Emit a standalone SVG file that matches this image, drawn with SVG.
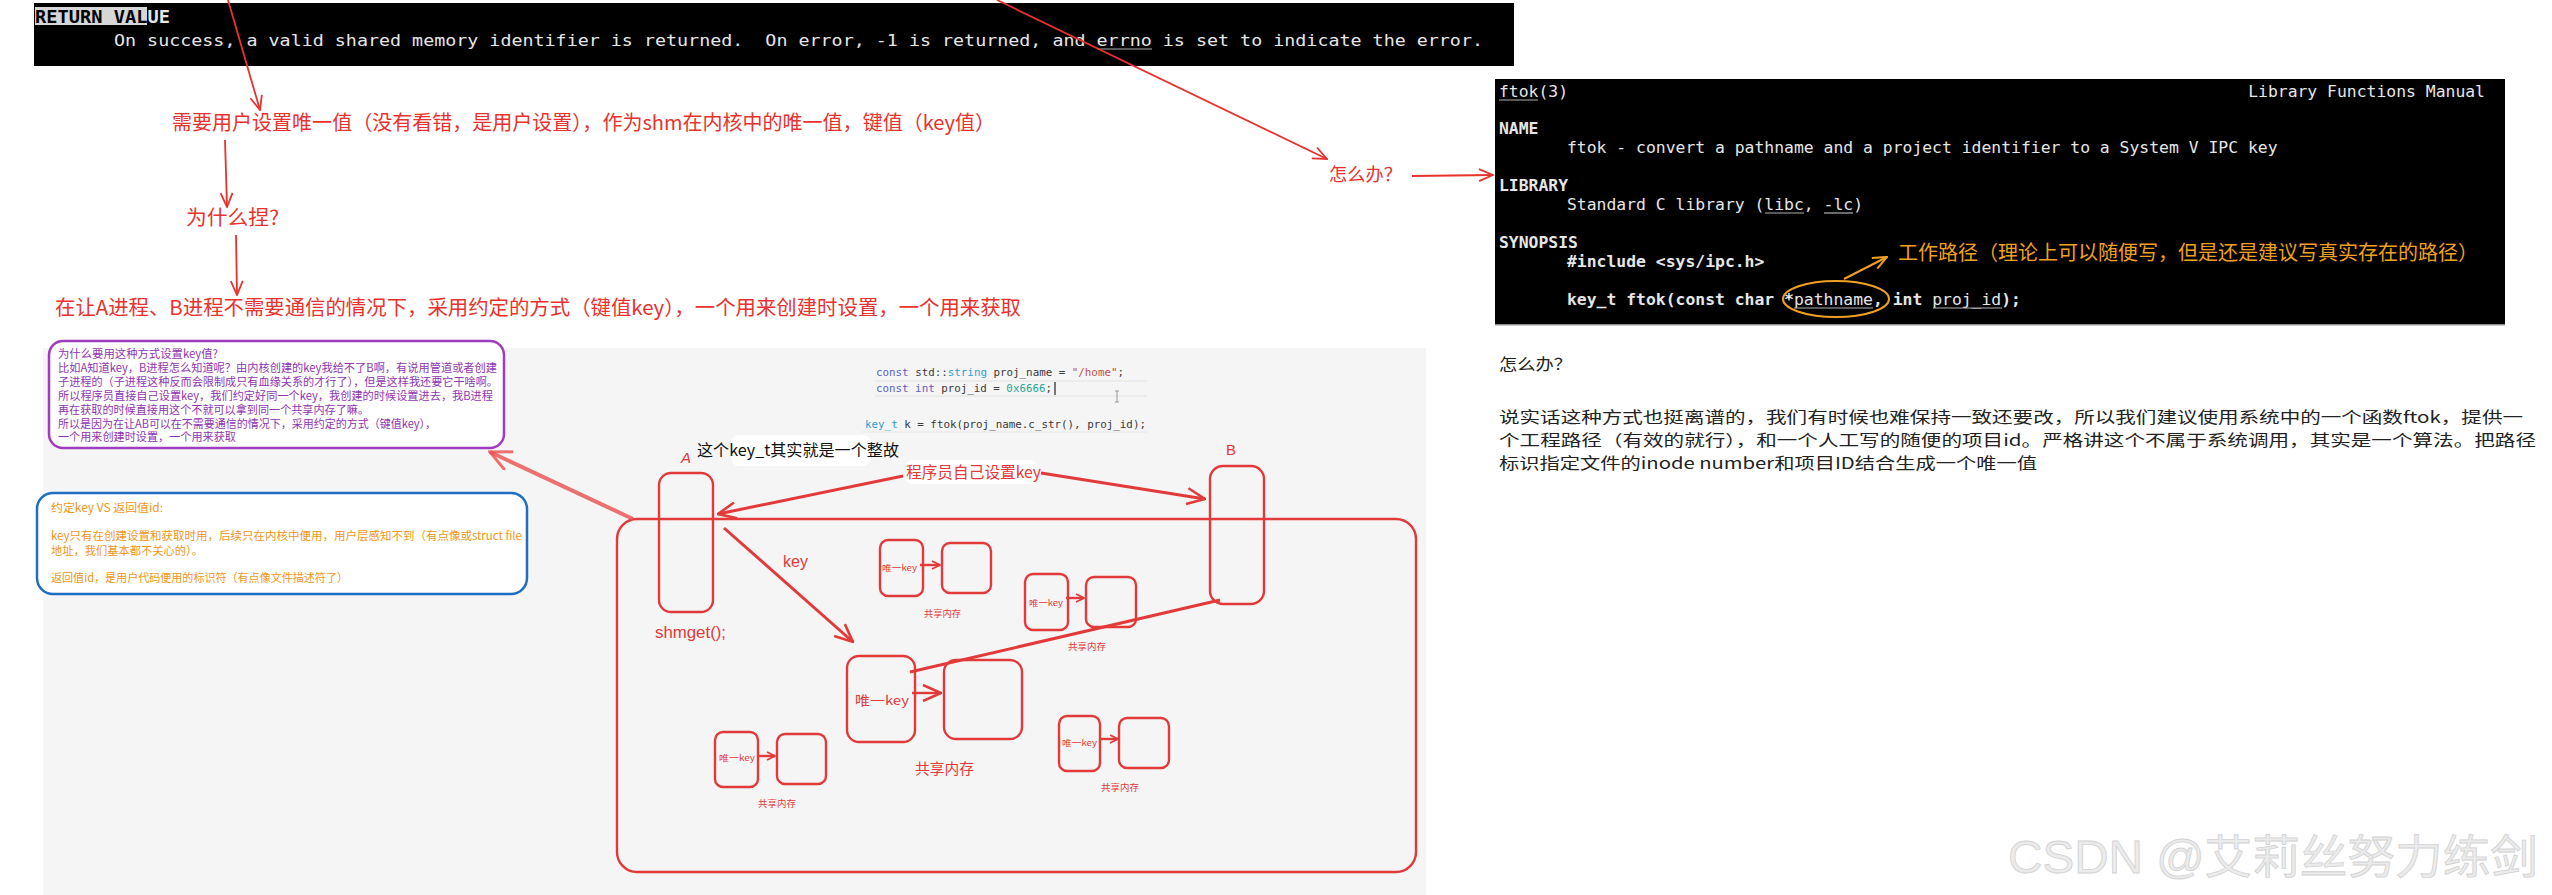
<svg xmlns="http://www.w3.org/2000/svg" width="2552" height="895" viewBox="0 0 2552 895">
<style>
.mono{font-family:"DejaVu Sans Mono","Liberation Mono",monospace}
.cjk{font-family:"Noto Sans CJK SC","Noto Sans",sans-serif}
.ann{fill:#e8322e;font-size:20px}
.man{fill:#e6e6e6;font-size:16.4px;white-space:pre}
.b{font-weight:bold}
.ul{stroke:#b0b0b0;stroke-width:1.2}
.rl{fill:none;stroke:#e8322e;stroke-width:1.8}
.hd{fill:none;stroke:#e23a3a;stroke-width:2.4}
.dar{fill:none;stroke:#e23a3a;stroke-width:3}
.pt{fill:#8f35b3;font-size:11.3px}
.ot{fill:#f0961a;font-size:11.5px}
.rt{fill:#e23a3a}
.sk{font-size:8.5px;fill:#e23a3a}
.sm{font-size:9px;fill:#e23a3a}
.code{font-size:11px;fill:#3a3a3a}
.kw{fill:#5a5fbf}
.ty{fill:#2f9fd0}
.st{fill:#c0504d}
.nu{fill:#29a39a}
.bt{fill:#222;font-size:15.5px}
</style>
<defs>
<marker id="mr" viewBox="0 0 16 14" refX="15" refY="7" markerWidth="16" markerHeight="14" markerUnits="userSpaceOnUse" orient="auto">
<path d="M1,1 L15,7 L1,13" fill="none" stroke="#e8322e" stroke-width="1.8"/>
</marker>
<marker id="md" viewBox="0 0 20 18" refX="19" refY="9" markerWidth="20" markerHeight="18" markerUnits="userSpaceOnUse" orient="auto">
<path d="M1,1 L19,9 L1,17" fill="none" stroke="#e23a3a" stroke-width="2.6"/>
</marker>
<marker id="mp" viewBox="0 0 24 22" refX="22" refY="11" markerWidth="24" markerHeight="22" markerUnits="userSpaceOnUse" orient="auto">
<path d="M1,1 L22,11 L1,21" fill="none" stroke="#e85050" stroke-width="3" stroke-opacity="0.8"/>
</marker>
<marker id="ms" viewBox="0 0 10 10" refX="9" refY="5" markerWidth="10" markerHeight="10" markerUnits="userSpaceOnUse" orient="auto">
<path d="M1,1 L9,5 L1,9" fill="none" stroke="#e23a3a" stroke-width="1.8"/>
</marker>
<marker id="mo" viewBox="0 0 16 14" refX="15" refY="7" markerWidth="16" markerHeight="14" markerUnits="userSpaceOnUse" orient="auto">
<path d="M1,1 L15,7 L1,13" fill="none" stroke="#f0a020" stroke-width="2"/>
</marker>
</defs>
<rect width="2552" height="895" fill="#ffffff"/>

<!-- top man page excerpt -->
<g id="retval">
<rect x="34" y="3" width="1480" height="63" fill="#000"/>
<rect x="35" y="7" width="112" height="18" fill="#d6d6d6"/>
<text x="35" y="23" class="mono b" font-size="17" textLength="135" lengthAdjust="spacingAndGlyphs"><tspan fill="#000">RETURN VAL</tspan><tspan fill="#e6e6e6">UE</tspan></text>
<text x="114" y="46" class="mono man" font-size="18" textLength="1369" lengthAdjust="spacingAndGlyphs" xml:space="preserve">On success, a valid shared memory identifier is returned.  On error, -1 is returned, and errno is set to indicate the error.</text>
<line x1="1097" y1="49" x2="1152" y2="49" class="ul"/>
</g>

<!-- red annotations -->
<g id="ann1"><text x="172" y="130" class="cjk ann" textLength="823" lengthAdjust="spacingAndGlyphs">需要用户设置唯一值（没有看错，是用户设置），作为shm在内核中的唯一值，键值（key值）</text></g>
<g id="ann2"><text x="186" y="225" class="cjk ann" textLength="93" lengthAdjust="spacingAndGlyphs">为什么捏?</text></g>
<g id="ann3"><text x="55" y="315" class="cjk ann" textLength="966" lengthAdjust="spacingAndGlyphs">在让A进程、B进程不需要通信的情况下，采用约定的方式（键值key），一个用来创建时设置，一个用来获取</text></g>
<g id="ann4"><text x="1329" y="181" class="cjk" fill="#e8322e" font-size="18" textLength="73" lengthAdjust="spacingAndGlyphs">怎么办？</text></g>

<!-- ftok man page -->
<g id="ftok">
<rect x="1495" y="79" width="1010" height="246" fill="#000"/>
<line x1="1495" y1="325" x2="2505" y2="325" stroke="#bbb" stroke-width="1.5"/>
<text x="1499" y="97" class="mono man">ftok(3)</text>
<line x1="1499" y1="100" x2="1538" y2="100" class="ul"/>
<text x="2485" y="97" class="mono man" text-anchor="end">Library Functions Manual</text>
<text x="1499" y="134" class="mono man b">NAME</text>
<text x="1567" y="153" class="mono man">ftok - convert a pathname and a project identifier to a System V IPC key</text>
<text x="1499" y="191" class="mono man b">LIBRARY</text>
<text x="1567" y="210" class="mono man">Standard C library (libc, -lc)</text>
<line x1="1765" y1="213" x2="1804" y2="213" class="ul"/>
<line x1="1824" y1="213" x2="1853" y2="213" class="ul"/>
<text x="1499" y="248" class="mono man b">SYNOPSIS</text>
<text x="1567" y="267" class="mono man b">#include &lt;sys/ipc.h&gt;</text>
<text x="1567" y="305" class="mono man"><tspan class="b">key_t ftok(const char *</tspan>pathname<tspan class="b">, int </tspan>proj_id<tspan class="b">);</tspan></text>
<line x1="1794" y1="308" x2="1873" y2="308" class="ul"/>
<line x1="1933" y1="308" x2="2002" y2="308" class="ul"/>
<ellipse cx="1836" cy="299" rx="53" ry="18" fill="none" stroke="#f0a020" stroke-width="2"/>
</g>
<g id="pathnote">
<text x="1898" y="260" class="cjk" fill="#f0a020" font-size="20" textLength="580" lengthAdjust="spacingAndGlyphs">工作路径（理论上可以随便写，但是还是建议写真实存在的路径）</text>
</g>

<!-- right explanation -->
<g id="explain">
<text x="1499" y="370" class="cjk bt" textLength="73" lengthAdjust="spacingAndGlyphs">怎么办？</text>
<text x="1499" y="423" class="cjk bt" textLength="1024" lengthAdjust="spacingAndGlyphs">说实话这种方式也挺离谱的，我们有时候也难保持一致还要改，所以我们建议使用系统中的一个函数ftok，提供一</text>
<text x="1499" y="446" class="cjk bt" textLength="1037" lengthAdjust="spacingAndGlyphs">个工程路径（有效的就行），和一个人工写的随便的项目id。严格讲这个不属于系统调用，其实是一个算法。把路径</text>
<text x="1499" y="469" class="cjk bt" textLength="538" lengthAdjust="spacingAndGlyphs">标识指定文件的inode number和项目ID结合生成一个唯一值</text>
</g>

<!-- screenshot panel -->
<rect x="43" y="348" width="1383" height="547" fill="#f5f5f5"/>

<g id="code">
<line x1="875" y1="381" x2="1147" y2="381" stroke="#e2e2e2" stroke-width="1"/>
<line x1="875" y1="396" x2="1147" y2="396" stroke="#e2e2e2" stroke-width="1"/>
<line x1="862" y1="432" x2="1147" y2="432" stroke="#e8e8e8" stroke-width="1"/>
<text x="876" y="376" class="mono code" textLength="248" lengthAdjust="spacingAndGlyphs"><tspan class="kw">const</tspan> std::<tspan class="ty">string</tspan> proj_name = <tspan class="st">"/home"</tspan>;</text>
<text x="876" y="392" class="mono code" textLength="176" lengthAdjust="spacingAndGlyphs"><tspan class="kw">const</tspan> <tspan class="kw">int</tspan> proj_id = <tspan class="nu">0x6666</tspan>;</text>
<line x1="1055" y1="382" x2="1055" y2="395" stroke="#222" stroke-width="1.2"/>
<path d="M1115,391 h4 M1117,391 v11 M1115,402 h4" stroke="#999" stroke-width="1" fill="none"/>
<text x="865" y="428" class="mono code" textLength="281" lengthAdjust="spacingAndGlyphs"><tspan class="ty">key_t</tspan> k = ftok(proj_name.c_str(), proj_id);</text>
</g>

<g id="whybox">
<rect x="49" y="341" width="455" height="107" rx="14" fill="#fff" stroke="#a03cc0" stroke-width="2.5"/>
<text x="58" y="358" class="cjk pt" textLength="160" lengthAdjust="spacingAndGlyphs">为什么要用这种方式设置key值?</text>
<text x="58" y="372" class="cjk pt" textLength="439" lengthAdjust="spacingAndGlyphs">比如A知道key，B进程怎么知道呢？由内核创建的key我给不了B啊，有说用管道或者创建</text>
<text x="58" y="386" class="cjk pt" textLength="440" lengthAdjust="spacingAndGlyphs">子进程的（子进程这种反而会限制成只有血缘关系的才行了），但是这样我还要它干啥啊。</text>
<text x="58" y="400" class="cjk pt" textLength="435" lengthAdjust="spacingAndGlyphs">所以程序员直接自己设置key，我们约定好同一个key，我创建的时候设置进去，我B进程</text>
<text x="58" y="414" class="cjk pt" textLength="311" lengthAdjust="spacingAndGlyphs">再在获取的时候直接用这个不就可以拿到同一个共享内存了嘛。</text>
<text x="58" y="428" class="cjk pt" textLength="378" lengthAdjust="spacingAndGlyphs">所以是因为在让AB可以在不需要通信的情况下，采用约定的方式（键值key），</text>
<text x="58" y="441" class="cjk pt" textLength="178" lengthAdjust="spacingAndGlyphs">一个用来创建时设置，一个用来获取</text>
</g>

<g id="vsbox">
<rect x="37" y="493" width="490" height="101" rx="16" fill="#fff" stroke="#1f6ec4" stroke-width="2.5"/>
<text x="51" y="512" class="cjk ot" textLength="112" lengthAdjust="spacingAndGlyphs">约定key VS 返回值id:</text>
<text x="51" y="540" class="cjk ot" textLength="471" lengthAdjust="spacingAndGlyphs">key只有在创建设置和获取时用，后续只在内核中便用，用户层感知不到（有点像或struct file</text>
<text x="51" y="555" class="cjk ot" textLength="152" lengthAdjust="spacingAndGlyphs">地址，我们基本都不关心的）。</text>
<text x="51" y="582" class="cjk ot" textLength="297" lengthAdjust="spacingAndGlyphs">返回值id，是用户代码便用的标识符（有点像文件描述符了）</text>
</g>

<g id="kernel">
<rect x="617" y="519" width="799" height="353" rx="20" class="hd" stroke-width="3"/>
</g>

<g id="procA">
<rect x="659" y="473" width="54" height="139" rx="12" class="hd"/>
<text x="681" y="463" class="rt" font-family="Liberation Sans, sans-serif" font-style="italic" font-size="15">A</text>
<text x="655" y="638" class="rt" font-family="Liberation Sans, sans-serif" font-size="17" textLength="71" lengthAdjust="spacingAndGlyphs">shmget();</text>
</g>

<g id="procB">
<rect x="1210" y="466" width="54" height="138" rx="13" class="hd"/>
<text x="1226" y="455" class="rt" font-family="Liberation Sans, sans-serif" font-size="15">B</text>
</g>

<g id="note-keyt">
<rect x="731" y="435" width="140" height="31" rx="8" fill="#fff"/>
<text x="697" y="456" class="cjk" fill="#111" font-size="16" textLength="202" lengthAdjust="spacingAndGlyphs">这个key_t其实就是一个整故</text>
</g>

<g id="note-prog">
<rect x="906" y="460" width="131" height="24" rx="6" fill="#fff"/>
<text x="906" y="478" class="cjk rt" font-size="16" textLength="135" lengthAdjust="spacingAndGlyphs">程序员自己设置key</text>
</g>

<g id="shm1">
<rect x="880" y="540" width="43" height="56" rx="8" class="hd" stroke-width="2"/>
<rect x="942" y="543" width="49" height="50" rx="8" class="hd" stroke-width="2"/>
<text x="882" y="571" class="cjk sk" textLength="35" lengthAdjust="spacingAndGlyphs">唯一key</text>
<text x="924" y="617" class="cjk sm" textLength="37" lengthAdjust="spacingAndGlyphs">共享内存</text>
</g>
<g id="shm2">
<rect x="1025" y="574" width="43" height="56" rx="8" class="hd" stroke-width="2"/>
<rect x="1086" y="577" width="50" height="50" rx="8" class="hd" stroke-width="2"/>
<text x="1029" y="606" class="cjk sk" textLength="34" lengthAdjust="spacingAndGlyphs">唯一key</text>
<text x="1068" y="650" class="cjk sm" textLength="38" lengthAdjust="spacingAndGlyphs">共享内存</text>
</g>
<g id="shm3">
<rect x="847" y="656" width="68" height="86" rx="12" class="hd"/>
<rect x="944" y="660" width="78" height="79" rx="12" class="hd"/>
<text x="855" y="705" class="cjk rt" font-size="13" textLength="54" lengthAdjust="spacingAndGlyphs">唯一key</text>
<text x="915" y="774" class="cjk rt" font-size="15" textLength="59" lengthAdjust="spacingAndGlyphs">共享内存</text>
</g>
<g id="shm4">
<rect x="715" y="732" width="43" height="55" rx="8" class="hd" stroke-width="2"/>
<rect x="777" y="734" width="49" height="50" rx="8" class="hd" stroke-width="2"/>
<text x="719" y="761" class="cjk sk" textLength="36" lengthAdjust="spacingAndGlyphs">唯一key</text>
<text x="758" y="807" class="cjk sm" textLength="38" lengthAdjust="spacingAndGlyphs">共享内存</text>
</g>
<g id="shm5">
<rect x="1059" y="716" width="41" height="55" rx="8" class="hd" stroke-width="2"/>
<rect x="1119" y="718" width="50" height="50" rx="8" class="hd" stroke-width="2"/>
<text x="1062" y="746" class="cjk sk" textLength="35" lengthAdjust="spacingAndGlyphs">唯一key</text>
<text x="1101" y="791" class="cjk sm" textLength="38" lengthAdjust="spacingAndGlyphs">共享内存</text>
</g>

<g id="keylabel"><text x="783" y="567" class="rt" font-family="Liberation Sans, sans-serif" font-size="16">key</text></g>

<g id="connectors">
<line x1="228" y1="0" x2="260" y2="110" class="rl" marker-end="url(#mr)"/>
<line x1="997" y1="0" x2="1327" y2="159" class="rl" marker-end="url(#mr)"/>
<line x1="225" y1="140" x2="227" y2="207" class="rl" marker-end="url(#mr)"/>
<line x1="236" y1="235" x2="237" y2="295" class="rl" marker-end="url(#mr)"/>
<line x1="1412" y1="176" x2="1493" y2="175" class="rl" marker-end="url(#mr)"/>
<line x1="1844" y1="279" x2="1887" y2="257" fill="none" stroke="#f0a020" stroke-width="2" marker-end="url(#mo)"/>
<line x1="633" y1="519" x2="490" y2="452" fill="none" stroke="#e85050" stroke-width="4" stroke-opacity="0.8" marker-end="url(#mp)"/>
<line x1="903" y1="476" x2="718" y2="514" class="dar" marker-end="url(#md)"/>
<line x1="1041" y1="473" x2="1205" y2="499" class="dar" marker-end="url(#md)"/>
<line x1="724" y1="528" x2="853" y2="642" class="dar" stroke-width="2.6" marker-end="url(#md)"/>
<line x1="1220" y1="600" x2="910" y2="672" class="dar" stroke-width="2.6"/>
<line x1="920" y1="565" x2="940" y2="565" class="hd" stroke-width="2" marker-end="url(#ms)"/>
<line x1="1066" y1="598" x2="1084" y2="598" class="hd" stroke-width="2" marker-end="url(#ms)"/>
<line x1="912" y1="693" x2="941" y2="693" class="hd" marker-end="url(#md)"/>
<line x1="758" y1="756" x2="775" y2="756" class="hd" stroke-width="2" marker-end="url(#ms)"/>
<line x1="1100" y1="739" x2="1118" y2="739" class="hd" stroke-width="2" marker-end="url(#ms)"/>
</g>

<g id="watermark">
<text x="2008" y="873" font-family="Liberation Sans, Noto Sans CJK SC, sans-serif" font-size="46" fill="#ebebeb" stroke="#d2d2d2" stroke-width="0.8" textLength="530" lengthAdjust="spacingAndGlyphs">CSDN @艾莉丝努力练剑</text>
</g>
</svg>
